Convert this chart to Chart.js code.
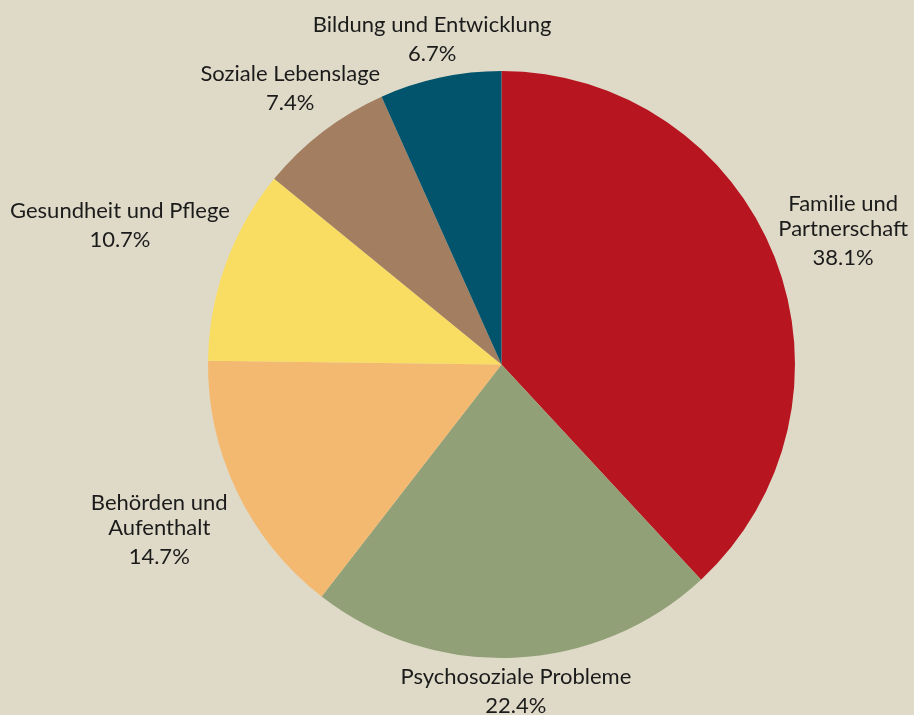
<!DOCTYPE html>
<html>
<head>
    <title>pie</title>
    <meta charset="utf-8">
    <script src="https://cdn.jsdelivr.net/npm/chart.js"></script>
    <style>
        body { margin: 0; background: #dfdac8; }
        canvas { display: block; }
    </style>
</head>
<body>
    <canvas id="chart" width="914" height="715"></canvas>
    <script>
        const categories = [
            ['Familie und', 'Partnerschaft'],
            ['Psychosoziale Probleme'],
            ['Behörden und', 'Aufenthalt'],
            ['Gesundheit und Pflege'],
            ['Soziale Lebenslage'],
            ['Bildung und Entwicklung']
        ];
        const shares = [38.1, 22.4, 14.7, 10.7, 7.4, 6.7];
        const colors = ['#b71620', '#92a077', '#f4b971', '#f9dd63', '#a37e61', '#02546c'];

        // distance of each label block centre beyond the pie edge
        const labelGap = [73.5, 33.5, 86.5, 112.5, 54, 38.5];

        const pieLabels = {
            id: 'pieLabels',
            afterDatasetsDraw(chart) {
                const ctx = chart.ctx;
                const arcs = chart.getDatasetMeta(0).data;
                ctx.save();
                ctx.font = '22px Lato';
                ctx.fillStyle = '#1b1b1b';
                ctx.textAlign = 'center';
                ctx.textBaseline = 'middle';
                arcs.forEach((arc, i) => {
                    const p = arc.getProps(['x', 'y', 'startAngle', 'endAngle', 'outerRadius'], true);
                    const mid = (p.startAngle + p.endAngle) / 2;
                    const d = p.outerRadius + labelGap[i];
                    const cx = p.x + Math.cos(mid) * d;
                    const cy = p.y + Math.sin(mid) * d;
                    const lines = categories[i].concat([shares[i].toFixed(1) + '%']);
                    // wrapped category lines are tighter than the gap to the value
                    const ys = [];
                    let y = 0;
                    lines.forEach((l, k) => {
                        if (k > 0) y += (k === lines.length - 1) ? 29 : 25;
                        ys.push(y);
                    });
                    const off = cy - y / 2;
                    lines.forEach((l, k) => ctx.fillText(l, cx, off + ys[k]));
                });
                ctx.restore();
            }
        };

        new Chart(document.getElementById('chart'), {
            type: 'pie',
            data: {
                labels: categories.map(c => c.join(' ')),
                datasets: [{
                    data: shares,
                    backgroundColor: colors,
                    borderWidth: 0
                }]
            },
            options: {
                responsive: false,
                animation: false,
                layout: {
                    padding: { top: 71, bottom: 57, left: 208, right: 119 }
                },
                plugins: {
                    legend: { display: false },
                    tooltip: { enabled: false }
                }
            },
            plugins: [pieLabels]
        });
    </script>
</body>
</html>
